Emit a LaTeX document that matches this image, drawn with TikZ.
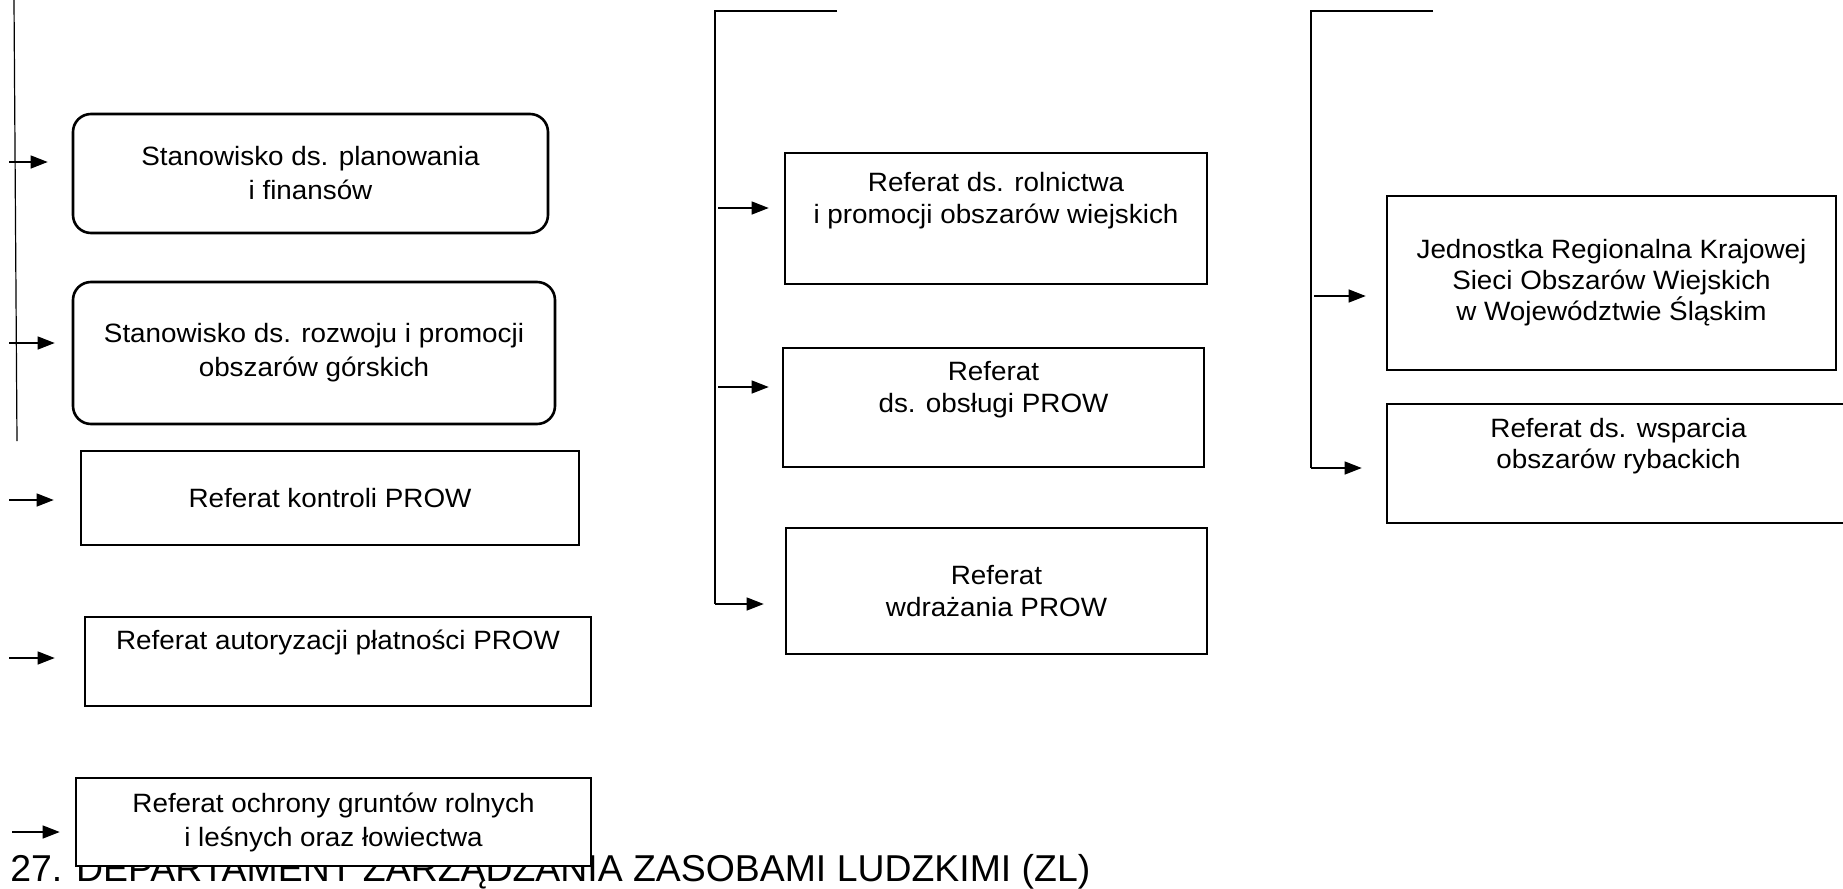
\documentclass[tikz,border=0pt]{standalone}
\usepackage{fontspec}
\setmainfont{Liberation Sans}
\newfontfamily\unitfont[FakeStretch=1.05]{Liberation Sans}
\usetikzlibrary{arrows.meta}
\tikzset{
  unit/.style={draw,line width=1.3pt,fill=white,align=center,inner sep=0pt,font=\unitfont\fontsize{13.25pt}{16pt}\selectfont},
  stn/.style={unit,rounded corners=9pt,font=\unitfont\fontsize{13.25pt}{17pt}\selectfont},
  lref/.style={unit,font=\unitfont\fontsize{13.25pt}{17pt}\selectfont},
  rref/.style={unit,font=\unitfont\fontsize{13.25pt}{15.5pt}\selectfont},
  wh/.style 2 args={minimum width=#1pt,minimum height=#2pt},
  arr/.style={line width=0.6pt,-{Triangle[length=8.5pt,width=6.5pt]}},
  trunk/.style={line width=0.6pt}
}

\begin{document}
\begin{tikzpicture}[x=0.5pt,y=-0.5pt]
\useasboundingbox (0,0) rectangle (1843,889);
\node[anchor=base west,inner sep=0pt,font=\fontsize{18.7pt}{22pt}\selectfont] (title) at (10,881) {27. DEPARTAMENT ZARZĄDZANIA ZASOBAMI LUDZKIMI (ZL)};
\node[stn,wh={237.5}{59.5}] (plan) at (310.5,173.5) {Stanowisko ds. planowania\\ i finansów};
\node[stn,wh={241}{71}] (gory) at (314,353) {Stanowisko ds. rozwoju i promocji\\ obszarów górskich};
\node[lref,wh={249}{47}] (kontr) at (330,498) {Referat kontroli PROW};
\node[lref,wh={253}{44.5}] (autor) at (338,661.5) {Referat autoryzacji płatności PROW\\ \strut};
\node[lref,wh={257.5}{44}] (grunty) at (333.5,822) {Referat ochrony gruntów rolnych\\ i leśnych oraz łowiectwa};
\node[unit,wh={211}{65.5}] (roln) at (996,218.5) {Referat ds. rolnictwa\\ i promocji obszarów wiejskich\\ \strut};
\node[unit,wh={210.5}{59.5}] (obsl) at (993.5,407.5) {Referat\\ ds. obsługi PROW\\ \strut};
\node[unit,wh={210.5}{63}] (wdr) at (996.5,591) {Referat\\ wdrażania PROW};
\node[rref,wh={224.5}{87}] (ksow) at (1611.5,283) {Jednostka Regionalna Krajowej\\ Sieci Obszarów Wiejskich\\ w Województwie Śląskim};
\node[rref,wh={231.5}{59.5}] (ryb) at (1618.5,463.5) {Referat ds. wsparcia\\ obszarów rybackich\\ \strut};

\coordinate (lhead) at (14,0); \coordinate (lfoot) at (17,441);
\draw[trunk] (lhead) -- (lfoot);
\coordinate (l1) at (9,162); \coordinate (l2) at (9,343); \coordinate (l3) at (9,500);
\coordinate (l4) at (9,658); \coordinate (l5) at (12,832);
\draw[arr,shorten >=12pt] (l1) -- (l1 -| plan.west);
\draw[arr,shorten >=8.5pt] (l2) -- (l2 -| gory.west);
\draw[arr,shorten >=13pt] (l3) -- (l3 -| kontr.west);
\draw[arr,shorten >=14.5pt] (l4) -- (l4 -| autor.west);
\draw[arr,shorten >=7.5pt] (l5) -- (l5 -| grunty.west);

\coordinate (mhead) at (837,11); \coordinate (mfoot) at (715,604);
\draw[trunk] (mhead) -- (mhead -| mfoot) -- (mfoot);
\coordinate (m1) at (718,208); \coordinate (m2) at (718,387);
\draw[arr,shorten >=7.5pt] (m1) -- (m1 -| roln.west);
\draw[arr,shorten >=6.5pt] (m2) -- (m2 -| obsl.west);
\draw[arr,shorten >=10.5pt] (mfoot) -- (mfoot -| wdr.west);

\coordinate (rhead) at (1433,11); \coordinate (rfoot) at (1311,468);
\draw[trunk] (rhead) -- (rhead -| rfoot) -- (rfoot);
\coordinate (r1) at (1314,296);
\draw[arr,shorten >=10pt] (r1) -- (r1 -| ksow.west);
\draw[arr,shorten >=12pt] (rfoot) -- (rfoot -| ryb.west);
\end{tikzpicture}
\end{document}
